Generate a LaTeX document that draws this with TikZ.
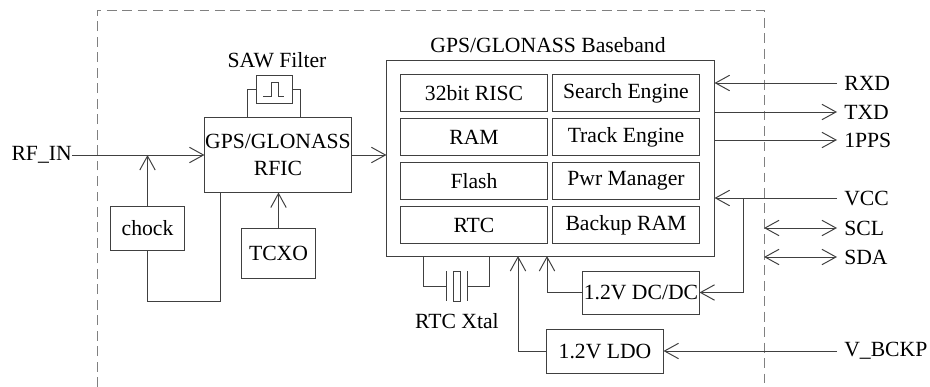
\documentclass[tikz,border=0pt]{standalone}
\usepackage{fontspec}
\setmainfont{Liberation Serif}
\usepackage{tikz}
\usetikzlibrary{arrows.meta,positioning,calc}
\pgfdeclarelayer{bg}
\pgfsetlayers{bg,main}

\tikzset{
  blk/.style={draw=black!75, line width=0.7pt, inner sep=0pt, align=center},
  wire/.style={draw=black!75, line width=0.7pt},
  sig/.style={wire, -{Straight Barb[length=10pt,width=11pt]}},
  bus/.style={wire, {Straight Barb[length=10pt,width=11pt]}-{Straight Barb[length=10pt,width=11pt]}},
  pin/.style={anchor=west, inner xsep=5pt, inner ysep=0pt},
}

\begin{document}
\begin{tikzpicture}[x=0.025cm, y=-0.025cm, font=\fontsize{15.4}{19}\selectfont]
    \useasboundingbox (0,0) rectangle (930,387);
    \coordinate (edge) at (764,10);

    \node [anchor=east, inner sep=0pt] (rfin) at (72,155) {RF\_IN};
    \node [blk, minimum width=3.65cm, minimum height=1.85cm] (rfic) at (278,155) {GPS/GLONASS\\RFIC};
    \node [blk, minimum width=0.9cm, minimum height=0.7cm] (saw) at (274,89) {};
    \node (sawlbl) at (277,60) {SAW Filter};
    \node [blk, minimum width=1.825cm, minimum height=1.1cm] (chock) at (147.5,228) {chock};
    \node [blk, minimum width=1.825cm, minimum height=1.25cm] (tcxo) at (278.5,253) {TCXO};

    \node [blk, minimum width=8.175cm, minimum height=4.875cm] (bb) at (550.5,158.5) {};
    \node (bblbl) at (548,45) {GPS/GLONASS Baseband};
    \foreach \i/\l/\r in {1/32bit RISC/Search Engine, 2/RAM/Track Engine,
                          3/Flash/Pwr Manager, 4/RTC/Backup RAM} {
        \node [blk, minimum width=3.65cm, minimum height=0.925cm] (l\i) at (474,49+44*\i) {\l};
        \node [blk, minimum width=3.65cm, minimum height=0.925cm] (r\i) at (626,49+44*\i) {\r};
    }
    \node [blk, minimum width=2.9cm, minimum height=1.075cm] (dcdc) at (641,292.5) {1.2V DC/DC};
    \node [blk, minimum width=2.9cm, minimum height=1.1cm] (ldo) at (605,351) {1.2V LDO};
    \node (xtallbl) at (457,321) {RTC Xtal};

    \node [pin] (rxd) at (837,83) {RXD};
    \node [pin] (txd) at (837,112) {TXD};
    \node [pin] (pps) at (837,140) {1PPS};
    \node [pin] (vcc) at (837,198) {VCC};
    \node [pin] (scl) at (837,228) {SCL};
    \node [pin] (sda) at (837,257) {SDA};
    \node [pin] (vbckp) at (837,351) {V\_BCKP};

    % RF side
    \draw [sig] (rfin.east) -- (rfic.west);
    \draw [sig] (chock.north) -- (chock.north |- rfin.east);
    \coordinate (gnd) at (220,301);
    \draw [wire] (chock.south) |- (gnd) -- (gnd |- rfic.south);
    \draw [sig] (tcxo.north) -- (tcxo.north |- rfic.south);
    \draw [wire] (saw.west) -- ++(-8,0) -- ++(0,29);
    \draw [wire] (saw.east) -- ++(8,0) -- ++(0,29);
    \draw [wire] ($(saw.center)+(-11,7)$) -- ++(8,0) -- ++(0,-14) -- ++(7,0) -- ++(0,14) -- ++(6,0);
    \draw [sig] (rfic.east) -- (rfic.east -| bb.west);

    % crystal
    \coordinate (x1) at (423,256);
    \coordinate (x2) at (489,256);
    \draw [wire] (x1) |- (446,286);
    \draw [wire] (446,271) -- (446,301);
    \draw [wire] (453,271) rectangle (460,301);
    \draw [wire] (467,271) -- (467,301);
    \draw [wire] (467,286) -| (x2);

    % power
    \coordinate (ldoin) at (518,256);
    \coordinate (dcin) at (547,256);
    \draw [sig] (ldo.west) -| (ldoin);
    \draw [sig] (dcdc.west) -| (dcin);
    \coordinate (vbr) at (743,198);
    \draw [sig] (vbr) |- (dcdc.east);
    \draw [sig] (vbckp.west) -- (vbckp.west -| ldo.east);

    % host interface
    \draw [sig] (rxd.west) -- (rxd.west -| bb.east);
    \draw [sig] (txd.west -| bb.east) -- (txd.west);
    \draw [sig] (pps.west -| bb.east) -- (pps.west);
    \draw [sig] (vcc.west) -- (vcc.west -| bb.east);
    \draw [bus] (scl.west -| edge) -- (scl.west);
    \draw [bus] (sda.west -| edge) -- (sda.west);

    \begin{pgfonlayer}{bg}    % module outline
        \draw [gray, line width=0.7pt, dash pattern=on 7pt off 4pt] (97,387) -- (97,10) -- (edge) -- (764,387);
    \end{pgfonlayer}
\end{tikzpicture}
\end{document}
